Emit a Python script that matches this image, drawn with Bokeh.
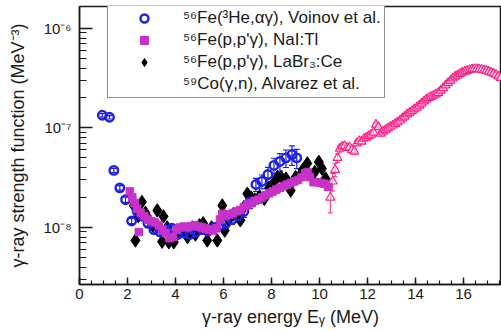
import numpy as np
from bokeh.plotting import figure
from bokeh.models import (Whisker, TeeHead, ColumnDataSource, Legend, LegendItem,
                          CustomJSTickFormatter, Range1d, LogTicker, SingleIntervalTicker)
from bokeh.embed import file_html
from bokeh.resources import INLINE

# ---------------- data (strength in units of 1e-8 MeV^-3) ----------------
voinov_e = [0.95, 1.25, 1.43, 1.68, 1.92, 2.17, 2.4, 2.6, 2.85, 3.1, 3.35, 3.6, 3.85, 4.1, 4.35,
            4.6, 4.85, 5.1, 5.35, 5.6, 5.85, 6.1, 6.35, 6.6, 6.85, 7.1, 7.35, 7.6, 7.85, 8.1,
            8.35, 8.6, 8.85, 9.05]
voinov_f = [13.4, 12.8, 3.74, 2.5, 1.9, 1.16, 1.45, 1.3, 1.1, 0.95, 0.9, 0.95, 0.98, 0.85, 0.88,
            0.85, 0.9, 0.95, 0.92, 1.0, 1.05, 1.1, 1.2, 1.3, 1.45, 1.8, 2.7, 2.9, 3.4, 4.2,
            4.6, 5.0, 5.4, 5.0]
voinov_err = [0.04, 0.04, 0.05, 0.05, 0.06, 0.06, 0.06, 0.06, 0.06, 0.07, 0.07, 0.07, 0.07, 0.08, 0.08,
              0.08, 0.08, 0.08, 0.09, 0.09, 0.09, 0.1, 0.1, 0.12, 0.13, 0.14, 0.15, 0.16, 0.18, 0.18,
              0.2, 0.2, 0.22, 0.22]

nai_e = [2.10, 2.20, 2.30, 2.40, 2.47, 2.55, 2.70, 2.85, 3.00, 3.15, 3.30, 3.45, 3.60, 3.75, 3.90,
         4.05, 4.20, 4.35, 4.50, 4.65, 4.80, 4.95, 5.10, 5.25, 5.40, 5.55, 5.70, 5.85, 5.95, 6.10,
         6.25, 6.40, 6.55, 6.70, 6.85, 7.00, 7.15, 7.30, 7.45, 7.60, 7.75, 7.90, 8.05, 8.20, 8.35,
         8.50, 8.65, 8.80, 8.95, 9.10, 9.25, 9.40, 9.50, 9.60, 9.75, 9.90, 10.05, 10.20, 10.35]
nai_f = [2.3, 2.0, 1.75, 1.55, 0.9, 1.4, 1.3, 1.2, 1.15, 1.12, 1.05, 0.95, 0.88, 0.78, 0.8,
         0.95, 1.0, 1.02, 1.0, 1.03, 1.05, 1.02, 1.0, 0.97, 0.95, 0.93, 0.98, 1.2, 1.37, 1.3,
         1.35, 1.4, 1.45, 1.5, 1.6, 1.7, 1.75, 1.85, 1.9, 2.0, 2.1, 2.2, 2.3, 2.4, 2.5,
         2.6, 2.7, 2.8, 2.9, 3.0, 3.2, 3.5, 3.6, 3.2, 2.85, 2.85, 2.8, 2.75, 2.55]

labr_e = [2.26, 2.33, 2.45, 2.6, 2.75, 2.9, 3.05, 3.24, 3.44, 3.5, 3.65, 3.72, 3.93, 4.1, 4.3,
          4.5, 4.7, 4.83, 5.0, 5.15, 5.32, 5.5, 5.74, 5.95, 6.05, 6.2, 6.4, 6.55, 6.7, 6.85,
          6.99, 7.15, 7.3, 7.5, 7.7, 7.9, 8.05, 8.24, 8.4, 8.6, 8.8, 9.0, 9.14, 9.3, 9.49,
          9.65, 9.8, 9.97, 10.1, 10.25]
labr_f = [1.66, 0.74, 1.3, 1.8, 1.4, 1.2, 1.05, 1.48, 0.72, 1.29, 1.0, 0.71, 0.71, 0.9, 0.95,
          0.8, 1.0, 0.85, 1.05, 1.1, 0.74, 1.0, 0.74, 1.66, 0.93, 1.2, 1.35, 1.3, 1.18, 1.6,
          2.18, 2.0, 1.9, 2.05, 1.94, 2.5, 2.7, 3.2, 3.2, 3.1, 2.35, 3.2, 3.2, 3.8, 4.4,
          3.3, 3.6, 4.55, 3.9, 3.1]

alv_e = [10.45, 10.55, 10.65, 10.75, 10.85, 10.95, 11.05, 11.15, 11.25, 11.35, 11.45,
         11.55, 11.65, 11.75, 11.85, 11.95, 12.05, 12.15, 12.25, 12.35, 12.45,
         12.55, 12.65, 12.75, 12.85, 12.95, 13.05, 13.15, 13.25, 13.35, 13.45,
         13.55, 13.65, 13.75, 13.85, 13.95, 14.05, 14.15, 14.25, 14.35, 14.45,
         14.55, 14.65, 14.75, 14.85, 14.95, 15.05, 15.15, 15.25, 15.35, 15.45,
         15.55, 15.65, 15.75, 15.85, 15.95, 16.05, 16.15, 16.25, 16.35, 16.45,
         16.55, 16.65, 16.75, 16.85, 16.95, 17.05, 17.15, 17.25, 17.35, 17.45, 17.55]
alv_f = [2.0, 2.9, 3.8, 5.0, 6.2, 6.5, 6.6, 6.3, 6.4, 6.0, 5.8,
         7.0, 7.4, 7.3, 7.8, 8.0, 8.3, 8.6, 9.0, 10.8, 10.2,
         8.8, 9.2, 9.6, 9.9, 10.3, 10.6, 11.0, 11.4, 11.9, 12.5,
         13.0, 13.7, 14.2, 14.8, 15.4, 16.0, 16.8, 17.6, 18.5, 19.3,
         20.0, 20.6, 21.2, 21.8, 22.6, 23.8, 25.2, 26.8, 28.3, 29.8,
         31.5, 32.8, 33.8, 35.0, 36.0, 36.8, 37.6, 38.3, 38.8, 39.2,
         39.0, 38.8, 38.5, 38.0, 37.5, 36.8, 36.0, 35.2, 34.3, 33.0, 31.8]
alv_err = [0.3, 0.2, 0.15, 0.1, 0.08, 0.06, 0.06, 0.06, 0.06, 0.06, 0.06,
           0.05, 0.05, 0.05, 0.05, 0.05, 0.05, 0.05, 0.05, 0.05, 0.05,
           0.05, 0.05, 0.05, 0.05, 0.05, 0.05, 0.05, 0.05, 0.05, 0.05,
           0.04, 0.04, 0.04, 0.04, 0.04, 0.04, 0.04, 0.04, 0.04, 0.04,
           0.04, 0.04, 0.04, 0.04, 0.04, 0.04, 0.04, 0.04, 0.04, 0.04,
           0.04, 0.04, 0.04, 0.04, 0.04, 0.04, 0.04, 0.04, 0.04, 0.04,
           0.04, 0.04, 0.04, 0.04, 0.04, 0.04, 0.04, 0.04, 0.04, 0.04, 0.04]

UNIT = 1e-8
legend_labels = ["⁵⁶Fe(³He,αγ), Voinov et al.", "⁵⁶Fe(p,p'γ), NaI:Tl",
                 "⁵⁶Fe(p,p'γ), LaBr₃:Ce", "⁵⁹Co(γ,n), Alvarez et al."]

BLUE = "#1f1fe8"
MAGENTA = "#c832c8"
PINK = "#ff2088"
INK = "#1a1a1a"
FONT = "Liberation Sans"

# ---------------- figure ----------------
p = figure(width=501, height=331, x_range=Range1d(0, 17.58), y_range=Range1d(2.67e-9, 1.66e-6),
           y_axis_type="log", output_backend="svg", toolbar_location=None,
           min_border_left=79, min_border_right=0, min_border_top=6, min_border_bottom=47)
p.grid.visible = False
p.outline_line_color = INK
p.outline_line_width = 1.5
p.outline_line_alpha = 1
p.background_fill_color = "white"
p.border_fill_color = "white"

xa = p.below[0]
ya = p.left[0]

xa.ticker = SingleIntervalTicker(interval=2, num_minor_ticks=4)
ya.ticker = LogTicker(num_minor_ticks=10)
ya.formatter = CustomJSTickFormatter(code="""
const e = Math.round(Math.log10(tick));
const sup = {'-':'\u207b','0':'\u2070','1':'\u00b9','2':'\u00b2','3':'\u00b3','4':'\u2074',
             '5':'\u2075','6':'\u2076','7':'\u2077','8':'\u2078','9':'\u2079'};
return '10' + String(e).split('').map(c => sup[c]).join('');
""")

for ax in (xa, ya):
    ax.axis_line_color = INK
    ax.axis_line_width = 1.5
    ax.major_tick_line_color = INK
    ax.major_tick_line_width = 1.5
    ax.minor_tick_line_color = INK
    ax.minor_tick_line_width = 1.2
    ax.major_tick_out = 0
    ax.minor_tick_out = 0
    ax.major_label_text_font = FONT
    ax.major_label_text_font_size = "15px"
    ax.major_label_text_color = INK
    ax.axis_label_text_font = FONT
    ax.axis_label_text_font_style = "normal"
    ax.axis_label_text_font_size = "18px"
    ax.axis_label_text_color = INK

xa.major_tick_in = 7
xa.minor_tick_in = 4
xa.major_label_standoff = 4
xa.axis_label_standoff = 5
xa.axis_label = "γ-ray energy Eᵧ (MeV)"

ya.major_tick_in = 13
ya.minor_tick_in = 7
ya.major_label_standoff = 8
ya.axis_label_standoff = 12
ya.axis_label = "γ-ray strength function (MeV⁻³)"

# ---------------- sources ----------------
def src(e, f, err=None):
    f = np.array(f) * UNIT
    d = dict(x=e, y=f)
    if err is not None:
        err = np.array(err)
        d["lo"] = f * (1 - err)
        d["hi"] = f * (1 + err)
    return ColumnDataSource(d)

s_voi = src(voinov_e, voinov_f, voinov_err)
s_nai = src(nai_e, nai_f)
s_labr = src(labr_e, labr_f)
s_alv = src(alv_e, alv_f, alv_err)

# Alvarez
p.add_layout(Whisker(source=s_alv, base="x", lower="lo", upper="hi", line_color=PINK, line_width=1,
                     upper_head=TeeHead(size=5, line_color=PINK, line_width=1),
                     lower_head=TeeHead(size=5, line_color=PINK, line_width=1)))
r_alv = p.scatter("x", "y", source=s_alv, marker="triangle", size=9, line_color=PINK,
                  fill_color="white", fill_alpha=0.6, line_width=1.2)

# LaBr3
r_labr = p.scatter("x", "y", source=s_labr, marker="diamond", size=13.5, color="black")

# Voinov
p.add_layout(Whisker(source=s_voi, base="x", lower="lo", upper="hi", line_color=BLUE, line_width=1.2,
                     upper_head=TeeHead(size=6, line_color=BLUE, line_width=1.2),
                     lower_head=TeeHead(size=6, line_color=BLUE, line_width=1.2)))
r_voi = p.scatter("x", "y", source=s_voi, marker="circle", size=8.5, line_color=BLUE,
                  fill_alpha=0, line_width=2.4)

# NaI
r_nai = p.scatter("x", "y", source=s_nai, marker="square", size=7.5, color=MAGENTA)

# invisible renderer for legend entry without marker
r_blank = p.scatter(x=[], y=[], marker="triangle", size=8, line_alpha=0, fill_alpha=0)

legend = Legend(items=[LegendItem(label=legend_labels[0], renderers=[r_voi]),
                       LegendItem(label=legend_labels[1], renderers=[r_nai]),
                       LegendItem(label=legend_labels[2], renderers=[r_labr]),
                       LegendItem(label=legend_labels[3], renderers=[r_blank])],
                location=(28, 186), border_line_color=INK, border_line_width=1.5,
                padding=3, spacing=2, label_height=20, glyph_height=20, glyph_width=66,
                label_standoff=6, label_text_font=FONT, label_text_font_size="17px",
                label_text_color=INK, margin=0, background_fill_color="white",
                background_fill_alpha=1)
p.add_layout(legend)

open("out.html", "w").write(file_html(p, INLINE))
